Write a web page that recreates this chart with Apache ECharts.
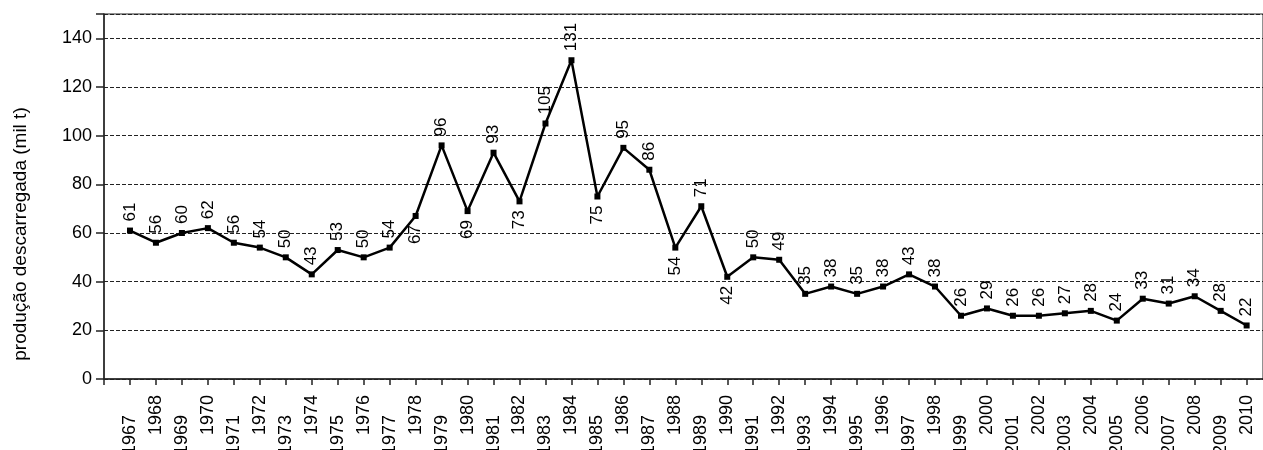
<!DOCTYPE html>
<html>
<head>
<meta charset="utf-8">
<script src="https://cdn.jsdelivr.net/npm/echarts@6/dist/echarts.min.js"></script>
<style>
html,body{margin:0;padding:0;background:#fff;}
#chart{width:1263px;height:450px;}
</style>
</head>
<body>
<div id="chart"></div>
<script>
var years = [1967,1968,1969,1970,1971,1972,1973,1974,1975,1976,1977,1978,1979,1980,1981,1982,1983,1984,1985,1986,1987,1988,1989,1990,1991,1992,1993,1994,1995,1996,1997,1998,1999,2000,2001,2002,2003,2004,2005,2006,2007,2008,2009,2010];
var production = [61,56,60,62,56,54,50,43,53,50,54,67,96,69,93,73,105,131,75,95,86,54,71,42,50,49,35,38,35,38,43,38,26,29,26,26,27,28,24,33,31,34,28,22];
var labelsBelow = [1978,1980,1982,1985,1988,1990];
var yTicks = [0,20,40,60,80,100,120,140];

var font = '"Liberation Sans", Arial, sans-serif';
var data = years.map(function(y, i){
  var below = labelsBelow.indexOf(y) >= 0;
  return {
    value: [y, production[i]],
    label: below ? {position:'bottom', align:'right', distance:6} : {position:'top', align:'left', distance:6}
  };
});

var chart = echarts.init(document.getElementById('chart'), null, {renderer:'canvas'});
chart.setOption({
  animation:false,
  backgroundColor:'#fff',
  grid:{left:104, top:14, right:0, bottom:71, outerBoundsMode:'none', containLabel:false, show:true, borderColor:'#222', borderWidth:1, backgroundColor:'transparent'},
  xAxis:{
    type:'value', min:1966, max:2010.63, interval:1,
    axisLine:{show:true, lineStyle:{color:'#222', width:1.5}},
    axisTick:{show:true, length:6, lineStyle:{color:'#222', width:1.5}},
    splitLine:{show:false},
    axisLabel:{
      rotate:90, margin:16, color:'#000', fontFamily:font, fontSize:18,
      showMinLabel:true, showMaxLabel:false, hideOverlap:false,
      formatter:function(v){
        var idx = years.indexOf(v);
        if (idx < 0) return '';
        return idx % 2 === 0 ? '{lo|' + v + '}' : '{hi|' + v + '}';
      },
      rich:{
        lo:{fontFamily:font, fontSize:18, color:'#000', padding:[0,20,0,0]},
        hi:{fontFamily:font, fontSize:18, color:'#000', padding:[0,0,0,0]}
      }
    }
  },
  yAxis:{
    type:'value', min:0, max:150, interval:20,
    axisLine:{show:true, lineStyle:{color:'#222', width:1.5}},
    axisTick:{show:true, length:8, lineStyle:{color:'#222', width:1.5}},
    splitLine:{show:true, lineStyle:{color:'#222', width:1, type:[4,2]}},
    axisLabel:{
      margin:12, color:'#000', fontFamily:font, fontSize:18,
      formatter:function(v){ return yTicks.indexOf(v) >= 0 ? String(v) : ''; }
    }
  },
  graphic:[{
    type:'text', x:21, y:234, rotation:Math.PI/2,
    style:{text:'produção descarregada (mil t)', fontFamily:font, fontSize:19, fill:'#000', align:'center', verticalAlign:'middle'}
  }],
  series:[{
    type:'line',
    data:data,
    symbol:'rect', symbolSize:6,
    itemStyle:{color:'#000'},
    lineStyle:{color:'#000', width:2.5},
    label:{
      show:true, rotate:90, verticalAlign:'middle', color:'#000', fontFamily:font, fontSize:17,
      formatter:function(p){ return String(Math.round(p.value[1])); }
    }
  }]
});
</script>
</body>
</html>
